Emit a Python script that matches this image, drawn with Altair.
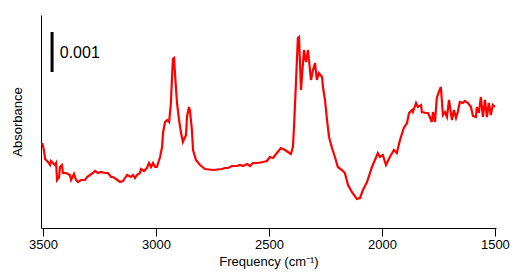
import altair as alt
import pandas as pd

# Frequency (cm^-1) and absorbance (in units of 0.001)
wavenumber = [3504, 3496, 3491, 3478, 3469, 3465, 3456, 3447, 3442, 3438,
              3429, 3425, 3416, 3412, 3398, 3381, 3376, 3363, 3354, 3345,
              3332, 3314, 3305, 3292, 3279, 3270, 3257, 3243, 3226, 3212,
              3199, 3190, 3177, 3159, 3146, 3137, 3128, 3111, 3102, 3093,
              3084, 3071, 3066, 3053, 3040, 3031, 3022, 3013, 3004, 2996,
              2982, 2973, 2969, 2960, 2951, 2942, 2934, 2929, 2925, 2920,
              2916, 2911, 2907, 2898, 2889, 2881, 2867, 2863, 2854, 2850,
              2841, 2836, 2823, 2805,
              2783, 2748, 2708, 2695, 2681, 2664, 2642, 2628, 2615, 2597,
              2584, 2571, 2549, 2527, 2509, 2496, 2482, 2465, 2447, 2429,
              2416, 2403,
              2394, 2389, 2380, 2372,
              2367, 2358, 2354, 2345, 2336, 2327, 2323, 2314, 2305, 2296,
              2288, 2279, 2265, 2261, 2252, 2243, 2234, 2221, 2208, 2195,
              2177, 2164, 2150, 2133, 2111, 2097, 2084, 2066, 2044, 2031,
              2018, 2009, 1996, 1982, 1965, 1947, 1934, 1920, 1903, 1889,
              1880, 1867, 1863, 1849, 1841, 1827, 1823, 1805, 1796, 1788,
              1779, 1774, 1765, 1757, 1748, 1739, 1730, 1721, 1712, 1703,
              1690, 1681, 1672, 1664, 1655, 1642, 1633, 1619, 1606, 1597,
              1584, 1580, 1571, 1562, 1553, 1544, 1535, 1527, 1518, 1509,
              1500]
absorbance = [2.125, 1.95, 1.725, 1.65, 1.575, 1.675, 1.625, 1.575, 1.625, 1.2,
              1.275, 1.525, 1.575, 1.375, 1.375, 1.325, 1.2, 1.35, 1.2, 1.15,
              1.2, 1.2, 1.275, 1.325, 1.375, 1.425, 1.375, 1.4, 1.375, 1.375,
              1.275, 1.275, 1.225, 1.15, 1.175, 1.25, 1.325, 1.275, 1.325, 1.25,
              1.325, 1.375, 1.475, 1.425, 1.5, 1.625, 1.525, 1.625, 1.525, 1.525,
              1.775, 2.025, 2.375, 2.65, 2.7, 2.65, 3.125, 3.775, 4.225, 4.25,
              3.875, 3.45, 3.125, 2.7, 2.375, 2.15, 2.325, 2.775, 3.025, 2.95,
              2.45, 1.95, 1.7, 1.575,
              1.475, 1.45, 1.475, 1.5, 1.5, 1.55, 1.55, 1.575, 1.55, 1.6,
              1.55, 1.625, 1.625, 1.65, 1.675, 1.775, 1.75, 1.875, 2.0, 1.95,
              1.9, 1.85,
              2.025, 2.525, 3.7, 4.75,
              4.775, 3.45, 3.775, 4.45, 4.15, 4.45, 4.2, 3.7, 3.95, 4.125,
              3.7, 3.875, 3.775, 3.525, 3.2, 2.7, 2.275, 2.0, 1.775, 1.525,
              1.45, 1.375, 1.075, 0.9, 0.725, 0.75, 0.95, 1.15, 1.525, 1.7,
              1.875, 1.775, 1.825, 1.575, 1.775, 1.95, 1.875, 2.2, 2.5, 2.625,
              2.875, 2.95, 2.9, 3.125, 3.025, 3.075, 2.9, 2.875, 2.875, 2.775,
              2.65, 2.9, 2.65, 3.25, 3.4, 3.525, 2.825, 2.9, 2.775, 3.2,
              2.7, 2.95, 2.75, 2.9, 3.15, 3.125, 3.175, 3.125, 3.025, 2.8,
              2.775, 3.025, 2.875, 3.275, 2.775, 3.2, 2.775, 3.125, 2.825, 3.075,
              3.025]

x_ticks = [3500, 3000, 2500, 2000, 1500]
x_domain = [3509, 1495]
y_domain = [0, 5.325]

scale_bar_x = [3460]
scale_bar_y = [3.9]
scale_bar_y2 = [4.9]
scale_label = ["0.001"]
scale_label_x = [3426]
scale_label_y = [4.375]

df = pd.DataFrame({"wn": wavenumber, "a": absorbance})
bar_df = pd.DataFrame({"x": scale_bar_x, "y": scale_bar_y, "y2": scale_bar_y2})
lab_df = pd.DataFrame({"x": scale_label_x, "y": scale_label_y, "t": scale_label})

xscale = alt.Scale(domain=x_domain, nice=False, zero=False)
yscale = alt.Scale(domain=y_domain, nice=False, zero=False)

font = "Liberation Sans"

line = alt.Chart(df).mark_line(color="#ff0000", strokeWidth=2.2).encode(
    x=alt.X("wn:Q", scale=xscale,
            axis=alt.Axis(title="Frequency (cm⁻¹)", values=x_ticks, format="d", grid=False,
                          domainColor="black", tickColor="black", tickSize=8, tickWidth=1,
                          labelColor="black", labelFont=font, labelFontSize=13, labelPadding=2,
                          titleFont=font, titleFontSize=13, titleFontWeight="normal",
                          titleColor="black", titlePadding=4, labelFlush=False)),
    y=alt.Y("a:Q", scale=yscale,
            axis=alt.Axis(title="Absorbance", labels=False, ticks=False, grid=False,
                          domainColor="black", titleFont=font, titleFontSize=13,
                          titleFontWeight="normal", titleColor="black", titlePadding=17)),
)

bar = alt.Chart(bar_df).mark_rule(color="black", strokeWidth=3).encode(
    x="x:Q", y="y:Q", y2="y2:Q"
)

label = alt.Chart(lab_df).mark_text(align="left", baseline="middle", font=font,
                                     fontSize=16, color="black").encode(
    x="x:Q", y="y:Q", text="t:N"
)

chart = alt.layer(line, bar, label).properties(
    width=455, height=213, background="white",
    padding={"left": 3, "top": 7, "right": 5, "bottom": 5}
).configure_view(stroke=None)

chart.save("out.html", embed_options={"renderer": "svg", "actions": False})
